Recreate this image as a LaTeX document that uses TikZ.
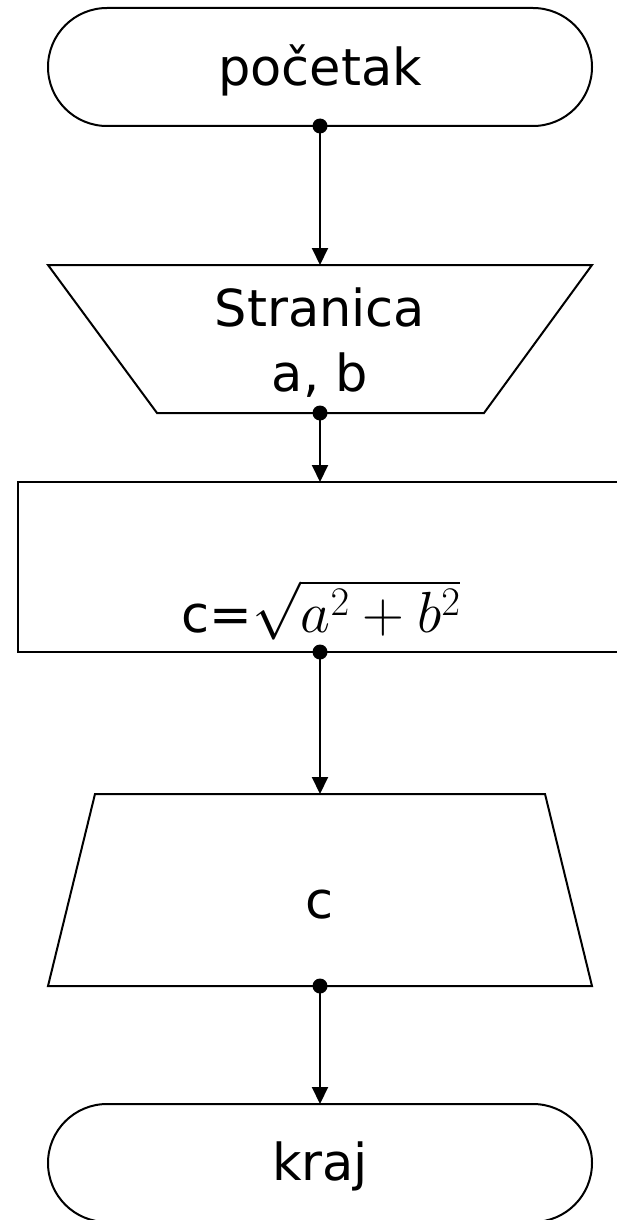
\RequirePackage{fix-cm}
\documentclass[tikz,border=0pt]{standalone}
\usepackage{fontspec}
\setmainfont{DejaVu Sans}
\usetikzlibrary{arrows.meta}
\begin{document}
\begin{tikzpicture}[x=1pt,y=-1pt,
  shapeline/.style={line width=2pt, line join=miter},
  anchorbox/.style={inner sep=0pt, outer sep=0pt},
  lbl/.style={inner sep=0pt, font=\fontsize{51}{65}\selectfont, align=center},
  flow/.style={line width=2pt, -{Triangle[length=17pt,width=16pt]}},
  dot/.style={circle, fill=black, inner sep=0pt, minimum size=15pt}]
\useasboundingbox (0,0) rectangle (617,1220);
\clip (0,0) rectangle (617,1220);
% start terminator
\node[anchorbox, draw, shapeline, rounded corners=59pt, minimum width=544pt, minimum height=118pt] (start) at (320,67) {};
\node[lbl] (starttxt) at (320,70) {početak};
% manual input
\draw[shapeline] (48,265) -- (592,265) -- (484,413) -- (157,413) -- cycle;
\node[anchorbox, minimum width=327pt, minimum height=148pt] (input) at (320,339) {};
\node[lbl] (inputtxt) at (320,343) {Stranica\\a, b};
% process
\draw[shapeline] (640,482) -- (18,482) -- (18,652) -- (640,652);
\node[anchorbox, minimum width=622pt, minimum height=170pt] (proc) at (329,567) {};
\node[lbl, anchor=base] (proctxt) at (321,632) {c={\fontsize{58}{65}\selectfont$\sqrt{a^2+b^2}$}};
% output
\draw[shapeline] (95,794) -- (545,794) -- (592,986) -- (48,986) -- cycle;
\node[anchorbox, minimum width=450pt, minimum height=192pt] (output) at (320,890) {};
\node[lbl] (outputtxt) at (320,905) {c};
% end terminator
\node[anchorbox, draw, shapeline, rounded corners=59pt, minimum width=544pt, minimum height=118pt] (stop) at (320,1163) {};
\node[lbl] (stoptxt) at (320,1166) {kraj};
% connectors
\node[dot] (d1) at (start.south) {};
\node[dot] (d2) at (input.south) {};
\node[dot] (d3) at (320,652) {};
\node[dot] (d4) at (output.south) {};
\draw[flow] (d1.center) -- (input.north);
\draw[flow] (d2.center) -- (320,482);
\draw[flow] (d3.center) -- (output.north);
\draw[flow] (d4.center) -- (stop.north);
\end{tikzpicture}
\end{document}
